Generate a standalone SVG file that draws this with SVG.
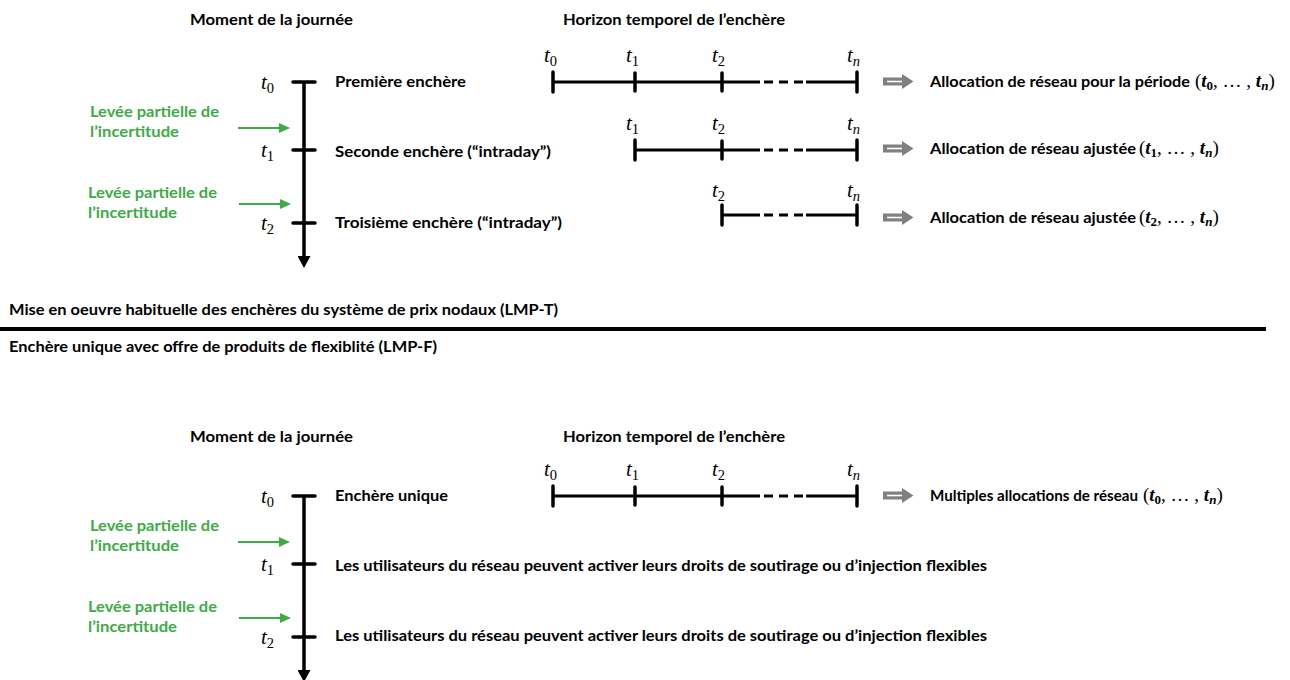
<svg xmlns="http://www.w3.org/2000/svg" width="1290" height="680" viewBox="0 0 1290 680">
<style>
.lbl{font-family:Lato,"Liberation Sans",sans-serif;font-weight:bold;font-size:15.5px;fill:#000}
.grn{fill:#3eab47}
.mt{font-family:"Liberation Serif","DejaVu Serif",serif;font-style:italic;font-size:21px;fill:#000}
.ms{font-size:14.5px;font-style:normal}
.msi{font-size:14.5px;font-style:italic}
.mr{font-family:"Liberation Serif","DejaVu Serif",serif;font-size:19px;fill:#000}
.bi{font-weight:bold;font-style:italic}
.bs{font-weight:bold;font-size:13px}
.bsi{font-weight:bold;font-style:italic;font-size:13px}
.ax{stroke:#000;stroke-width:3.5;fill:none}
.tk{stroke:#000;stroke-width:3.5;stroke-linecap:round;fill:none}
.tl{stroke:#000;stroke-width:3;fill:none}
.ds{stroke:#000;stroke-width:3;fill:none;stroke-dasharray:9 6}
.gl{stroke:#3eab47;stroke-width:2;fill:none}
.sep{stroke:#000;stroke-width:4}
</style>
<defs>
<marker id="ga" markerWidth="12" markerHeight="10" refX="0" refY="5" orient="auto" markerUnits="userSpaceOnUse"><path d="M0,0 L11,5 L0,10 z" fill="#3eab47"/></marker>
<marker id="ba" markerWidth="14" markerHeight="13" refX="0" refY="6.5" orient="auto" markerUnits="userSpaceOnUse"><path d="M0,0 L12,6.5 L0,13 z" fill="#000"/></marker>
<g id="garrow"><path d="M883,77.5 H902 V74 L913.5,81.5 L902,89 V85.5 H883 Z" fill="#808080"/><line x1="887" y1="81.5" x2="902" y2="81.5" stroke="#fff" stroke-width="1.6"/></g>
</defs>
<rect width="1290" height="680" fill="#fff"/>

<g id="connectors">
<line class="ax" x1="304" y1="82" x2="304" y2="256" marker-end="url(#ba)"/>
<line class="tk" x1="293" y1="82" x2="315" y2="82"/>
<line class="tk" x1="293" y1="150" x2="315" y2="150"/>
<line class="tk" x1="293" y1="223" x2="315" y2="223"/>
<line class="gl" x1="238" y1="128" x2="279" y2="128" marker-end="url(#ga)"/>
<line class="gl" x1="239" y1="204" x2="280" y2="204" marker-end="url(#ga)"/>
<line class="tl" x1="553" y1="82" x2="760" y2="82"/><line class="ds" x1="764" y1="82" x2="806" y2="82"/><line class="tl" x1="806" y1="82" x2="857" y2="82"/>
<line class="tk" x1="553" y1="72" x2="553" y2="92"/><line class="tk" x1="635" y1="73" x2="635" y2="91"/><line class="tk" x1="722" y1="73" x2="722" y2="91"/><line class="tk" x1="857" y1="72" x2="857" y2="92"/>
<line class="tl" x1="635" y1="150" x2="760" y2="150"/><line class="ds" x1="764" y1="150" x2="806" y2="150"/><line class="tl" x1="806" y1="150" x2="857" y2="150"/>
<line class="tk" x1="635" y1="140" x2="635" y2="160"/><line class="tk" x1="722" y1="141" x2="722" y2="159"/><line class="tk" x1="857" y1="140" x2="857" y2="160"/>
<line class="tl" x1="722" y1="215" x2="760" y2="215"/><line class="ds" x1="764" y1="215" x2="806" y2="215"/><line class="tl" x1="806" y1="215" x2="857" y2="215"/>
<line class="tk" x1="722" y1="205" x2="722" y2="225"/><line class="tk" x1="857" y1="205" x2="857" y2="225"/>
<use href="#garrow"/>
<use href="#garrow" transform="translate(0,67)"/>
<use href="#garrow" transform="translate(0,136)"/>
<line class="sep" x1="0" y1="329" x2="1266" y2="329"/>
<line class="ax" x1="304" y1="496" x2="304" y2="670" marker-end="url(#ba)"/>
<line class="tk" x1="293" y1="496" x2="315" y2="496"/>
<line class="tk" x1="293" y1="564" x2="315" y2="564"/>
<line class="tk" x1="293" y1="637" x2="315" y2="637"/>
<line class="gl" x1="238" y1="542" x2="279" y2="542" marker-end="url(#ga)"/>
<line class="gl" x1="239" y1="618" x2="280" y2="618" marker-end="url(#ga)"/>
<line class="tl" x1="553" y1="496" x2="760" y2="496"/><line class="ds" x1="764" y1="496" x2="806" y2="496"/><line class="tl" x1="806" y1="496" x2="857" y2="496"/>
<line class="tk" x1="553" y1="486" x2="553" y2="506"/><line class="tk" x1="635" y1="487" x2="635" y2="505"/><line class="tk" x1="722" y1="487" x2="722" y2="505"/><line class="tk" x1="857" y1="486" x2="857" y2="506"/>
<use href="#garrow" transform="translate(0,414)"/>
</g>

<g id="top-headers">
<text class="lbl" x="190" y="25" textLength="163" lengthAdjust="spacingAndGlyphs">Moment de la journée</text>
<text class="lbl" x="563" y="25" textLength="222" lengthAdjust="spacingAndGlyphs">Horizon temporel de l’enchère</text>
</g>
<g id="top-axis-labels">
<text class="mt" x="261" y="89">t<tspan class="ms" dy="4">0</tspan></text>
<text class="mt" x="261" y="157">t<tspan class="ms" dy="4">1</tspan></text>
<text class="mt" x="261" y="230">t<tspan class="ms" dy="4">2</tspan></text>
</g>
<g id="top-uncertainty-1"><text class="lbl grn" x="90" y="117" textLength="129" lengthAdjust="spacingAndGlyphs">Levée partielle de</text><text class="lbl grn" x="90" y="137" textLength="89" lengthAdjust="spacingAndGlyphs">l’incertitude</text></g>
<g id="top-uncertainty-2"><text class="lbl grn" x="88" y="198" textLength="129" lengthAdjust="spacingAndGlyphs">Levée partielle de</text><text class="lbl grn" x="88" y="218" textLength="89" lengthAdjust="spacingAndGlyphs">l’incertitude</text></g>
<g id="auction-1"><text class="lbl" x="335" y="87" textLength="131" lengthAdjust="spacingAndGlyphs">Première enchère</text></g>
<g id="auction-2"><text class="lbl" x="335" y="157" textLength="216" lengthAdjust="spacingAndGlyphs">Seconde enchère (“intraday”)</text></g>
<g id="auction-3"><text class="lbl" x="335" y="228" textLength="227" lengthAdjust="spacingAndGlyphs">Troisième enchère (“intraday”)</text></g>
<g id="timeline-labels-top">
<text class="mt" x="544" y="62">t<tspan class="ms" dy="4">0</tspan></text>
<text class="mt" x="626" y="62">t<tspan class="ms" dy="4">1</tspan></text>
<text class="mt" x="712" y="62">t<tspan class="ms" dy="4">2</tspan></text>
<text class="mt" x="847" y="62">t<tspan class="msi" dy="4">n</tspan></text>
<text class="mt" x="626" y="130">t<tspan class="ms" dy="4">1</tspan></text>
<text class="mt" x="712" y="130">t<tspan class="ms" dy="4">2</tspan></text>
<text class="mt" x="847" y="130">t<tspan class="msi" dy="4">n</tspan></text>
<text class="mt" x="712" y="197">t<tspan class="ms" dy="4">2</tspan></text>
<text class="mt" x="847" y="197">t<tspan class="msi" dy="4">n</tspan></text>
</g>
<g id="result-1"><text class="lbl" x="930" y="87" textLength="260" lengthAdjust="spacingAndGlyphs">Allocation de réseau pour la période</text><text class="mr" x="1195" y="87">(<tspan class="bi">t</tspan><tspan class="bs" dy="3">0</tspan><tspan dy="-3">, … , </tspan><tspan class="bi">t</tspan><tspan class="bsi" dy="3">n</tspan><tspan dy="-3">)</tspan></text></g>
<g id="result-2"><text class="lbl" x="930" y="154" textLength="206" lengthAdjust="spacingAndGlyphs">Allocation de réseau ajustée</text><text class="mr" x="1139" y="154">(<tspan class="bi">t</tspan><tspan class="bs" dy="3">1</tspan><tspan dy="-3">, … , </tspan><tspan class="bi">t</tspan><tspan class="bsi" dy="3">n</tspan><tspan dy="-3">)</tspan></text></g>
<g id="result-3"><text class="lbl" x="930" y="223" textLength="206" lengthAdjust="spacingAndGlyphs">Allocation de réseau ajustée</text><text class="mr" x="1139" y="223">(<tspan class="bi">t</tspan><tspan class="bs" dy="3">2</tspan><tspan dy="-3">, … , </tspan><tspan class="bi">t</tspan><tspan class="bsi" dy="3">n</tspan><tspan dy="-3">)</tspan></text></g>

<g id="section-titles">
<text class="lbl" x="9" y="315" textLength="549" lengthAdjust="spacingAndGlyphs">Mise en oeuvre habituelle des enchères du système de prix nodaux (LMP-T)</text>
<text class="lbl" x="9" y="352" textLength="428" lengthAdjust="spacingAndGlyphs">Enchère unique avec offre de produits de flexiblité (LMP-F)</text>
</g>

<g id="bottom-headers">
<text class="lbl" x="190" y="442" textLength="163" lengthAdjust="spacingAndGlyphs">Moment de la journée</text>
<text class="lbl" x="563" y="442" textLength="222" lengthAdjust="spacingAndGlyphs">Horizon temporel de l’enchère</text>
</g>
<g id="bottom-axis-labels">
<text class="mt" x="261" y="503">t<tspan class="ms" dy="4">0</tspan></text>
<text class="mt" x="261" y="571">t<tspan class="ms" dy="4">1</tspan></text>
<text class="mt" x="261" y="644">t<tspan class="ms" dy="4">2</tspan></text>
</g>
<g id="bottom-uncertainty-1"><text class="lbl grn" x="90" y="531" textLength="129" lengthAdjust="spacingAndGlyphs">Levée partielle de</text><text class="lbl grn" x="90" y="551" textLength="89" lengthAdjust="spacingAndGlyphs">l’incertitude</text></g>
<g id="bottom-uncertainty-2"><text class="lbl grn" x="88" y="612" textLength="129" lengthAdjust="spacingAndGlyphs">Levée partielle de</text><text class="lbl grn" x="88" y="632" textLength="89" lengthAdjust="spacingAndGlyphs">l’incertitude</text></g>
<g id="single-auction"><text class="lbl" x="335" y="501" textLength="113" lengthAdjust="spacingAndGlyphs">Enchère unique</text></g>
<g id="flex-1"><text class="lbl" x="335" y="571" textLength="652" lengthAdjust="spacingAndGlyphs">Les utilisateurs du réseau peuvent activer leurs droits de soutirage ou d’injection flexibles</text></g>
<g id="flex-2"><text class="lbl" x="335" y="641" textLength="652" lengthAdjust="spacingAndGlyphs">Les utilisateurs du réseau peuvent activer leurs droits de soutirage ou d’injection flexibles</text></g>
<g id="timeline-labels-bottom">
<text class="mt" x="544" y="476">t<tspan class="ms" dy="4">0</tspan></text>
<text class="mt" x="626" y="476">t<tspan class="ms" dy="4">1</tspan></text>
<text class="mt" x="712" y="476">t<tspan class="ms" dy="4">2</tspan></text>
<text class="mt" x="847" y="476">t<tspan class="msi" dy="4">n</tspan></text>
</g>
<g id="result-bottom"><text class="lbl" x="930" y="501" textLength="208" lengthAdjust="spacingAndGlyphs">Multiples allocations de réseau</text><text class="mr" x="1143" y="501">(<tspan class="bi">t</tspan><tspan class="bs" dy="3">0</tspan><tspan dy="-3">, … , </tspan><tspan class="bi">t</tspan><tspan class="bsi" dy="3">n</tspan><tspan dy="-3">)</tspan></text></g>
</svg>
